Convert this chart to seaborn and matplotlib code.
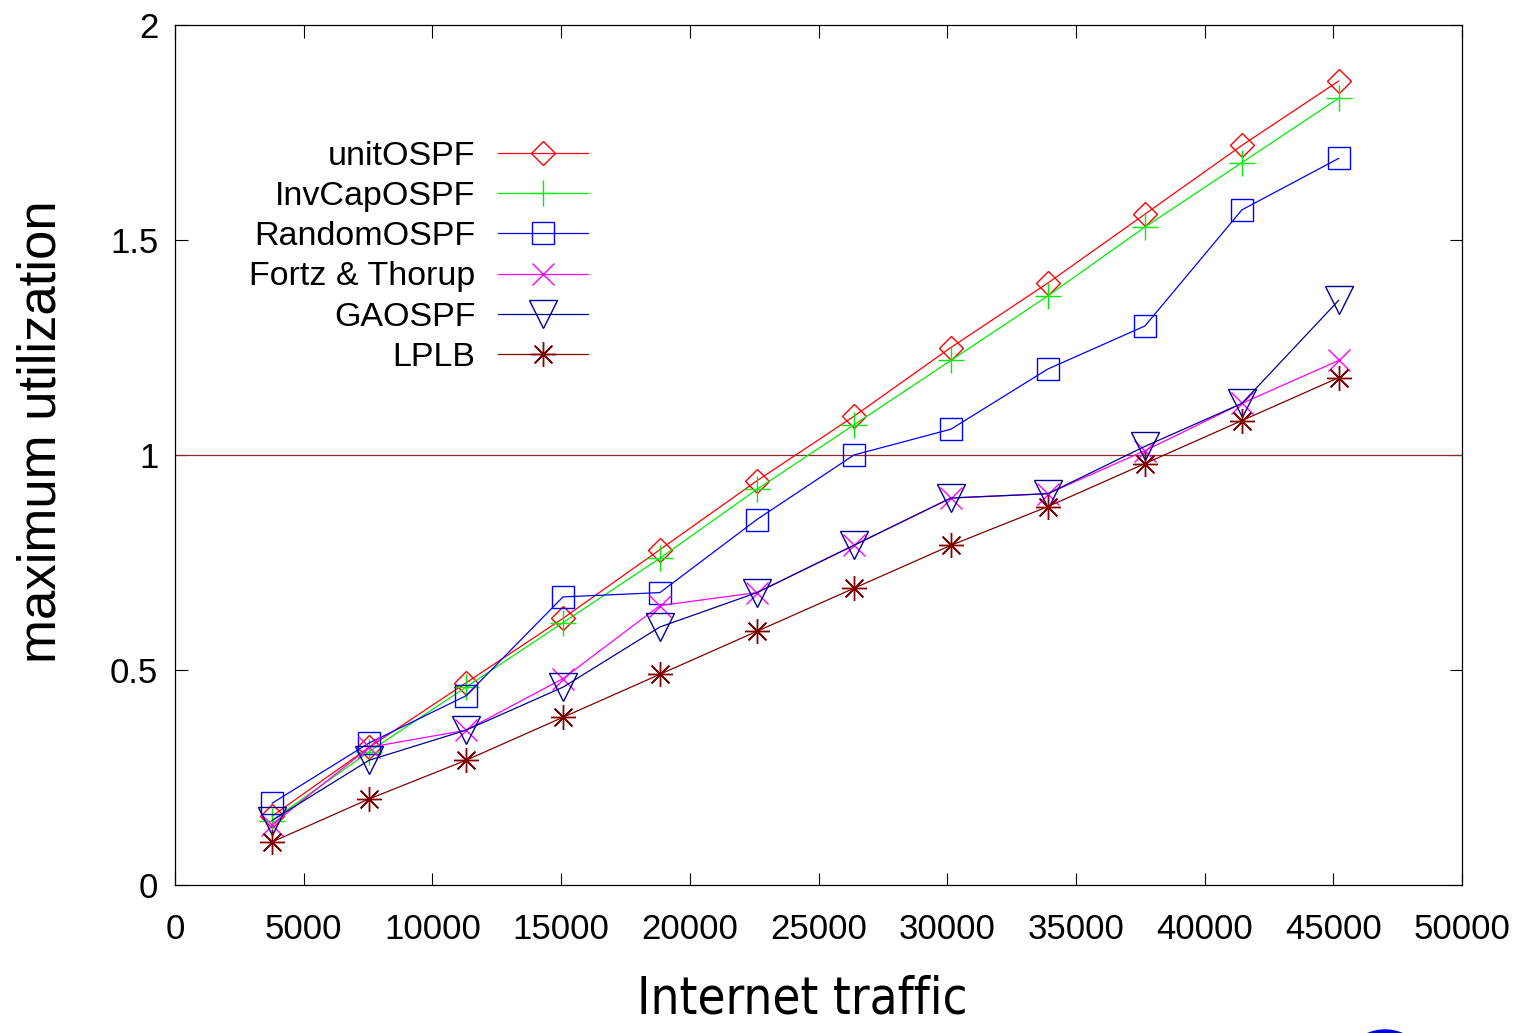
import numpy as np
import pandas as pd
import matplotlib
matplotlib.use("Agg")
import matplotlib.pyplot as plt
import seaborn as sns
from matplotlib.patches import Ellipse

# ---- data ----
traffic = [3768, 7536, 11304, 15072, 18840, 22608, 26376, 30144, 33912, 37680, 41448, 45216]
unit_ospf = [0.16, 0.32, 0.47, 0.62, 0.78, 0.94, 1.09, 1.25, 1.40, 1.56, 1.72, 1.87]
invcap_ospf = [0.15, 0.31, 0.46, 0.61, 0.76, 0.92, 1.07, 1.22, 1.37, 1.53, 1.68, 1.83]
random_ospf = [0.19, 0.33, 0.44, 0.67, 0.68, 0.85, 1.00, 1.06, 1.20, 1.30, 1.57, 1.69]
fortz_thorup = [0.14, 0.32, 0.36, 0.48, 0.65, 0.68, 0.79, 0.90, 0.91, 1.01, 1.12, 1.22]
ga_ospf = [0.15, 0.29, 0.36, 0.46, 0.60, 0.68, 0.79, 0.90, 0.91, 1.02, 1.12, 1.36]
lplb = [0.10, 0.20, 0.29, 0.39, 0.49, 0.59, 0.69, 0.79, 0.88, 0.98, 1.08, 1.18]

series_names = ["unitOSPF", "InvCapOSPF", "RandomOSPF", "Fortz & Thorup", "GAOSPF", "LPLB"]
series_values = [unit_ospf, invcap_ospf, random_ospf, fortz_thorup, ga_ospf, lplb]
x_ticks = [0, 5000, 10000, 15000, 20000, 25000, 30000, 35000, 40000, 45000, 50000]
y_ticks = [0, 0.5, 1, 1.5, 2]
y_tick_labels = ["0", "0.5", "1", "1.5", "2"]
threshold = 1.0

# ---- styles ----
colors = ["#ff0000", "#00ee00", "#0000ff", "#ff00ff", "#000090", "#800000"]
markers = ["D", "+", "s", "x", "v", (8, 2, 0)]
msizes = [12, 19, 15.5, 16, 20, 18]
open_marker = [True, False, True, False, True, False]

sns.set_style("ticks")
plt.rcParams["font.family"] = ["Liberation Sans", "DejaVu Sans"]
plt.rcParams["text.color"] = "black"
plt.rcParams["axes.labelcolor"] = "black"

fig = plt.figure(figsize=(15.21, 10.33), dpi=100)
ax = fig.add_axes([175 / 1521, 1 - 885 / 1033, (1462 - 175) / 1521, (885 - 25) / 1033])

ax.axhline(threshold, color="#8b2a2a", lw=0.9, zorder=1)

for name, vals, c, m, ms, op in zip(series_names, series_values, colors, markers, msizes, open_marker):
    df = pd.DataFrame({"x": traffic, "y": vals})
    sns.lineplot(data=df, x="x", y="y", ax=ax, color=c, lw=0.9, marker=m,
                 markersize=ms, markeredgecolor=c,
                 markerfacecolor="none" if op else c,
                 markeredgewidth=1.0, label=name, zorder=3)

ax.set_xlim(0, 50000)
ax.set_ylim(0, 2)
ax.set_xticks(x_ticks)
ax.set_xticklabels([str(t) for t in x_ticks])
ax.set_yticks(y_ticks)
ax.set_yticklabels(y_tick_labels)
ax.tick_params(axis="both", which="major", direction="in", length=9, width=0.8,
               labelsize=25, top=True, right=True, colors="black")
ax.tick_params(axis="x", pad=20)
ax.tick_params(axis="y", pad=12)
for sp in ax.spines.values():
    sp.set_visible(True)
    sp.set_color("black")
    sp.set_linewidth(0.9)
ax.set_xlabel("")
ax.set_ylabel("")

fig.text(802 / 1521, 1 - 1000 / 1033, "Internet traffic", color="black",
         family=["DejaVu Sans"], fontstretch="condensed", fontsize=36.5,
         ha="center", va="center")
fig.text(42 / 1521, 1 - 432 / 1033, "maximum utilization", fontsize=38, color="black",
         rotation=90, ha="center", va="center")

leg = ax.legend(loc="upper left", bbox_to_anchor=(0.0445, 0.885), markerfirst=False,
                frameon=False, fontsize=24.5, handlelength=2.65, handletextpad=0.65,
                labelspacing=0.27, borderpad=0.0, labelcolor="black")

fig.patches.append(Ellipse((1385 / 1521, 1 - 1075 / 1033), 90 / 1521, 90 / 1033,
                           transform=fig.transFigure, color="#0000ff", zorder=0))

fig.savefig("out.png", dpi=100)
